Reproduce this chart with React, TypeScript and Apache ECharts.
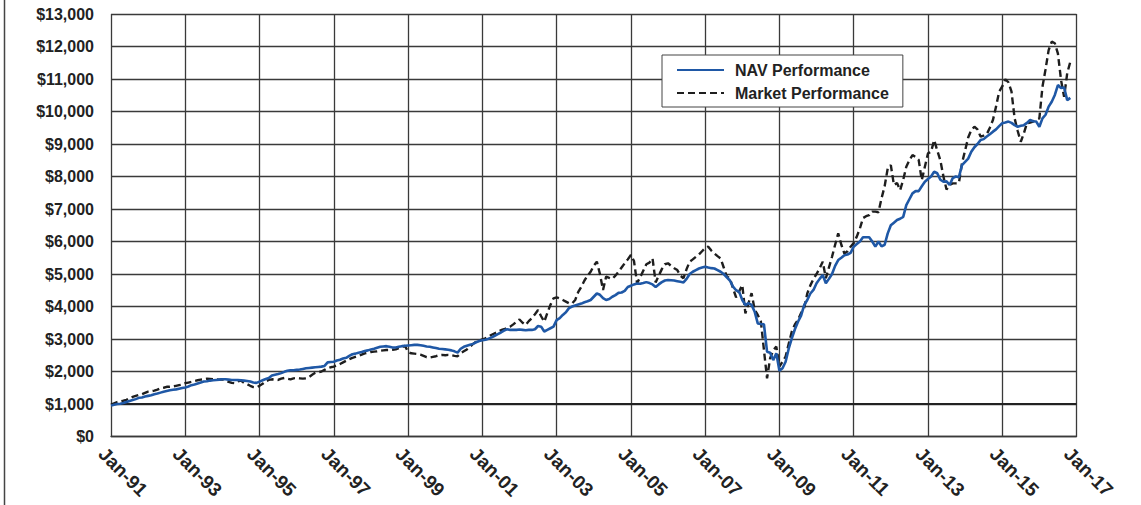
import React, { useEffect, useRef } from "react";
import * as echarts from "echarts";

const MONTHS = ["Jan", "Feb", "Mar", "Apr", "May", "Jun", "Jul", "Aug", "Sep", "Oct", "Nov", "Dec"];
const FIRST_YEAR = 1991;
const LAST_YEAR = 2017;

const yTickMax = 13000;
const yTickStep = 1000;

const navValues = [
  950, 980, 1000, 1010, 1030, 1060, 1090, 1120, 1150, 1190, 1200, 1230,
  1250, 1270, 1300, 1320, 1350, 1380, 1400, 1420, 1440, 1450, 1470, 1490,
  1510, 1540, 1580, 1600, 1630, 1660, 1690, 1700, 1720, 1730, 1740, 1750,
  1760, 1760, 1750, 1740, 1740, 1740, 1730, 1720, 1710, 1690, 1660, 1650,
  1690, 1730, 1770, 1800, 1880, 1900, 1920, 1950, 1990, 2020, 2040, 2040,
  2050, 2060, 2080, 2100, 2110, 2120, 2130, 2140, 2150, 2170, 2280, 2290,
  2300, 2340, 2360, 2400, 2420, 2480, 2530, 2550, 2580, 2600, 2630, 2650,
  2680, 2700, 2730, 2760, 2770, 2780, 2760, 2740, 2740, 2760, 2780, 2790,
  2800, 2810, 2820, 2820, 2810, 2790, 2770, 2760, 2740, 2720, 2700, 2690,
  2680, 2670, 2650, 2620, 2580, 2700, 2760, 2790, 2820, 2850, 2900, 2940,
  2960, 2980, 3010, 3050, 3100, 3150, 3200, 3260, 3300, 3280, 3280, 3280,
  3290, 3280, 3270, 3280, 3280, 3300, 3400, 3380, 3230, 3280, 3330, 3380,
  3580, 3640, 3740, 3820, 3950, 4000, 4030, 4060, 4090, 4130, 4160, 4200,
  4300, 4400, 4360, 4260, 4200, 4230, 4300, 4350, 4420, 4430, 4480, 4600,
  4640, 4680, 4710, 4700, 4720, 4750, 4720, 4680, 4600, 4680, 4750, 4800,
  4815, 4810, 4800, 4780, 4760, 4740, 4850, 5000, 5070, 5120, 5170, 5200,
  5225, 5200, 5180, 5170, 5120, 5070, 5000, 4900, 4800, 4610, 4500, 4450,
  4200, 4045, 4100, 4050, 3840, 3480, 3460, 3450, 2610, 2580, 2350, 2560,
  2025, 2100, 2300, 2700, 3020, 3300, 3530, 3720, 4045, 4200, 4400, 4510,
  4715, 4850, 4970, 4715, 4850, 5000, 5250, 5430, 5500, 5580, 5600, 5650,
  5840, 5920, 6000, 6130, 6130, 6130, 6000, 5840, 6000, 5850, 5900, 6250,
  6500, 6580, 6660, 6700, 6760, 7120, 7300, 7480, 7550, 7550, 7700, 7840,
  7920, 8000, 8150, 8100, 7900, 7840, 7850, 7740, 7950, 8000, 7980, 8350,
  8450, 8550, 8760, 8900, 9000, 9120, 9150, 9230, 9300, 9380, 9450, 9550,
  9640, 9660, 9690, 9650, 9580, 9530, 9560, 9580, 9650, 9740, 9700, 9690,
  9530, 9790, 9900, 10150, 10300, 10510, 10815, 10720, 10740, 10350, 10420,
];

const marketValues = [
  980, 1020, 1060, 1080, 1100, 1130, 1180, 1220, 1250, 1280, 1300, 1340,
  1380, 1390, 1410, 1440, 1480, 1500, 1530, 1530, 1540, 1560, 1580, 1600,
  1640, 1660, 1680, 1710, 1730, 1750, 1760, 1780, 1770, 1760, 1760, 1750,
  1760, 1720, 1680, 1650, 1640, 1700, 1720, 1650, 1610, 1560, 1520, 1510,
  1560, 1620, 1700, 1740, 1760, 1750, 1740, 1780, 1800, 1780, 1760, 1790,
  1800, 1790, 1780, 1790, 1830, 1900, 1960, 1980, 2000, 2050, 2100, 2130,
  2150, 2190, 2230, 2280, 2330, 2380, 2420, 2450, 2480, 2520, 2560, 2580,
  2600, 2610, 2620, 2640, 2650, 2660, 2660, 2670, 2680, 2720, 2760, 2790,
  2600, 2560, 2550, 2540, 2520, 2480, 2440, 2430, 2450, 2470, 2500, 2510,
  2500, 2510, 2500, 2480, 2470, 2560, 2620, 2680, 2760, 2850, 2920, 2950,
  2990, 3020, 3080, 3130, 3175, 3220, 3270, 3300, 3340, 3380, 3450, 3530,
  3600, 3500, 3430, 3550, 3640, 3760, 3890, 3700, 3530, 3800, 4050, 4250,
  4280, 4250, 4200, 4150, 4100, 4095, 4200, 4450, 4610, 4800, 4950, 5070,
  5250, 5380, 5000, 4510, 4920, 4880, 4850, 4950, 5070, 5200, 5330, 5450,
  5585, 5400, 4720, 4900, 5100, 5300, 5350, 5480, 4740, 4950, 5150, 5300,
  5330, 5250, 5180, 5120, 4950, 4870, 5150, 5380, 5450, 5530, 5600, 5700,
  5800, 5840, 5720, 5630, 5550, 5480, 5200, 4920, 4870, 4560, 4280, 4470,
  4660, 3790, 4100, 4410, 3900, 3740, 3540, 2660, 1790, 2410, 2650, 2765,
  2150, 2300, 2460, 2850, 3230, 3450, 3590, 3800, 3960, 4400, 4650, 4850,
  5000, 5175, 5380, 4870, 5200, 5530, 5900, 6250, 5900, 5630, 5700, 5840,
  5950, 6150, 6400, 6720, 6780, 6810, 6920, 6920, 6900, 7330, 7700, 8250,
  8350, 7740, 7800, 7580, 7900, 8300, 8500, 8660, 8600, 8510, 7890, 8300,
  8710, 8760, 9120, 8800, 8500, 8000, 7600, 7740, 7790, 7790, 7800, 8410,
  8800, 9200, 9430, 9530, 9450, 9230, 9260, 9300, 9500, 9740, 10150, 10610,
  10770, 10990, 10900, 10610, 9790, 9400, 9070, 9330, 9640, 9660, 9690, 9750,
  9790, 10760, 11300, 11890, 12150, 12100, 11780, 10970, 10450, 11180, 11530,
];

const categories: string[] = [];
for (let y = FIRST_YEAR; y < LAST_YEAR; y++) {
  for (let m = 0; m < 12; m++) {
    categories.push(MONTHS[m] + "-" + String(y % 100).padStart(2, "0"));
  }
}
categories.push("Jan-" + String(LAST_YEAR % 100).padStart(2, "0"));

const LABEL_EVERY = 24;

export default function App() {
  const ref = useRef<HTMLDivElement>(null);
  useEffect(() => {
    if (!ref.current) return;
    const chart = echarts.init(ref.current, undefined, { renderer: "svg" });
    const gridColor = "#3a3a3a";
    const font = "Liberation Sans, Arial, sans-serif";
    chart.setOption({
      animation: false,
      backgroundColor: "#ffffff",
      grid: { left: 111, top: 14, right: 64.5, bottom: 68.5, containLabel: false },
      legend: {
        orient: "vertical",
        left: 662,
        top: 55,
        padding: [7, 14, 6, 14],
        itemGap: 7,
        itemWidth: 47,
        itemHeight: 14,
        backgroundColor: "#ffffff",
        borderColor: "#444444",
        borderWidth: 1,
        itemStyle: { opacity: 0, borderWidth: 0 },
        textStyle: {
          fontFamily: font,
          fontWeight: "bold",
          fontSize: 16,
          color: "#222222",
          padding: [0, 0, 0, 6],
        },
        data: ["NAV Performance", "Market Performance"],
      },
      xAxis: {
        type: "category",
        data: categories,
        boundaryGap: false,
        axisLine: { show: true, lineStyle: { color: gridColor, width: 1.3 } },
        axisTick: { show: false },
        splitLine: {
          show: true,
          interval: (i: number) => i % LABEL_EVERY === 0,
          lineStyle: { color: gridColor, width: 1.3 },
        },
        axisLabel: {
          interval: (i: number) => i % LABEL_EVERY === 0,
          rotate: -45,
          margin: 5,
          verticalAlign: "top",
          lineHeight: 26,
          fontFamily: font,
          fontWeight: "bold",
          fontSize: 19,
          color: "#222222",
        },
      },
      yAxis: {
        type: "value",
        min: 0,
        max: yTickMax,
        interval: yTickStep,
        axisLine: { show: false },
        axisTick: { show: false },
        splitLine: { show: true, lineStyle: { color: gridColor, width: 1.3 } },
        axisLabel: {
          margin: 17,
          fontFamily: font,
          fontWeight: "bold",
          fontSize: 16,
          color: "#222222",
          formatter: (v: number) => "$" + v.toLocaleString("en-US"),
        },
      },
      series: [
        {
          name: "Market Performance",
          type: "line",
          data: marketValues,
          symbol: "none",
          z: 3,
          lineStyle: { color: "#1e1e1e", width: 2.4, type: [7, 4] },
          itemStyle: { color: "#1e1e1e" },
        },
        {
          name: "NAV Performance",
          type: "line",
          data: navValues,
          symbol: "none",
          z: 4,
          lineStyle: { color: "#1f58a6", width: 2.6 },
          itemStyle: { color: "#1f58a6" },
          markLine: {
            silent: true,
            symbol: "none",
            label: { show: false },
            lineStyle: { color: "#222222", width: 1.8, type: "solid" },
            data: [{ yAxis: 1000 }],
            z: 1,
          },
        },
      ],
      graphic: [
        {
          type: "line",
          shape: { x1: 4.5, y1: 0, x2: 4.5, y2: 505 },
          style: { stroke: "#444444", lineWidth: 1.5 },
        },
      ],
    });
    return () => chart.dispose();
  }, []);
  return (
    <div
      ref={ref}
      style={{ position: "fixed", left: 0, top: 0, width: 1141, height: 505 }}
    />
  );
}
